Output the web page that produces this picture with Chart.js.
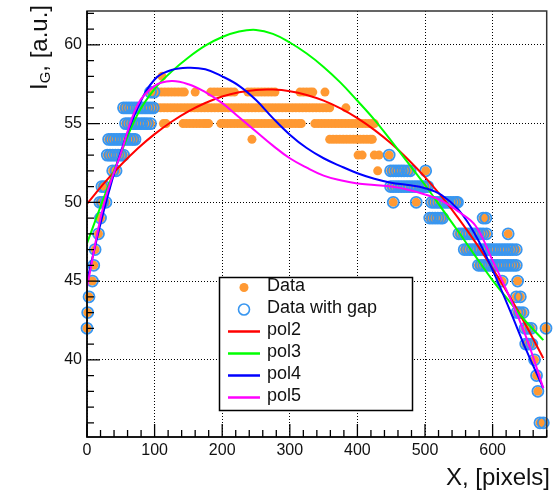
<!DOCTYPE html>
<html><head><meta charset="utf-8">
<script src="https://cdn.jsdelivr.net/npm/chart.js@4.4.1/dist/chart.umd.min.js"></script>
<style>html,body{margin:0;padding:0;background:#fff;overflow:hidden}canvas{display:block}</style>
</head><body>
<canvas id="c" width="554" height="493"></canvas>
<script>
// ---- axis setup ----
const xTicks = [0, 100, 200, 300, 400, 500, 600];
const yTicks = [40, 45, 50, 55, 60];
const xRange = [0, 680];
const yRange = [35.1, 62.15];

// ---- "Data" points: x positions for each quantised intensity level ----
const lv36 = [670, 675];
const lv38 = [667];
const lv39 = [665];
const lv40 = [662];
const lv41 = [649, 653, 658];
const lv42 = [0, 648, 652, 657, 679];
const lv43 = [1, 636, 640, 645];
const lv44 = [3, 635, 641];
const lv45 = [8, 614, 637];
const lv46 = [10, 579, 583, 587, 591, 595, 599, 603, 607, 611, 615, 619, 623, 627, 631, 635];
const lv47 = [12, 558, 562, 566, 570, 574, 578, 582, 586, 590, 594, 598, 602, 606, 610, 614, 618, 622, 626, 630, 635];
const lv48 = [17, 550, 554, 558, 562, 566, 570, 574, 578, 582, 586, 591, 623];
const lv49 = [20, 507, 511, 515, 519, 523, 526, 586, 590];
const lv50 = [19, 23, 28, 453, 487, 510, 514, 518, 522, 526, 530, 534, 538, 542, 546, 548];
const lv51 = [22, 26, 449, 453, 457, 461, 465, 469, 473, 477, 481, 485, 489, 493, 497, 501, 504];
const lv52 = [38, 43, 430, 449, 453, 457, 461, 465, 469, 474, 478, 501];
const lv53 = [30, 34, 38, 42, 46, 50, 54, 401, 407, 425, 432, 447];
const lv54 = [32, 36, 40, 44, 48, 52, 56, 60, 64, 68, 71, 244,
  359, 364, 369, 374, 379, 384, 389, 394, 399, 404, 409, 414, 419, 422];
const lv55 = [57, 61, 65, 69, 73, 77, 81, 85, 89, 94, 113, 117,
  142, 147, 152, 157, 162, 167, 172, 176, 180,
  198, 203, 208, 213, 218, 223, 228, 233, 238, 243, 248, 253, 258, 263, 268, 273, 278, 283, 288, 293, 298, 303, 308, 313, 317,
  337, 342, 347, 352, 357, 362, 367, 372, 377, 382, 387, 392, 397, 402, 407, 412, 417, 422, 425];
const lv56 = [54, 58, 62, 66, 70, 74, 78, 82, 86, 90, 94, 98,
  104, 109, 114, 119, 124, 129, 134, 139, 144, 149, 154, 159, 164, 169,
  174, 179, 184, 189, 194, 199, 204, 209, 214, 219, 224, 229, 234, 239, 244, 249, 254, 259, 264, 269, 274, 279, 284, 289,
  294, 299, 304, 309, 314, 319, 324, 329, 334, 339, 344, 349, 354, 359, 383];
const lv57 = [94, 99, 105, 110, 115, 120, 125, 130, 135, 140, 144, 160, 183, 188, 193, 198, 203, 208, 213, 218,
  238, 243, 248, 253, 258, 263, 268, 273, 278, 315, 320, 325, 330, 334, 352];
const lv58 = [111];

const levelValues = [36, 38, 39, 40, 41, 42, 43, 44, 45, 46, 47, 48, 49, 50, 51, 52, 53, 54, 55, 56, 57, 58];
const levelXs = [lv36, lv38, lv39, lv40, lv41, lv42, lv43, lv44, lv45, lv46, lv47, lv48, lv49, lv50, lv51, lv52, lv53, lv54, lv55, lv56, lv57, lv58];

// the "gap" excluded from the second data set
const gapFrom = 100, gapTo = 440;

// ---- fitted polynomial curves ----
const curveX = [0, 25, 50, 75, 100, 125, 150, 175, 200, 225, 250, 275, 300, 325, 350, 375, 400, 425, 450, 475, 500, 525, 550, 575, 600, 625, 650, 675];
const pol2 = [49.90, 51.20, 52.37, 53.42, 54.33, 55.12, 55.78, 56.31, 56.72, 56.99, 57.14, 57.16, 57.06, 56.82, 56.46, 55.97, 55.35, 54.60, 53.73, 52.72, 51.60, 50.34, 48.95, 47.44, 45.80, 44.03, 42.13, 40.10];
const pol3 = [47.4, 50.3, 53.1, 55.6, 57.2, 58.3, 59.2, 59.95, 60.5, 60.85, 60.95, 60.7, 60.15, 59.45, 58.6, 57.6, 56.45, 55.25, 53.9, 52.5, 51.1, 49.6, 48.1, 46.55, 45.05, 43.7, 42.4, 41.25];
const pol4 = [45.0, 49.5, 53.2, 56.0, 57.8, 58.4, 58.55, 58.45, 58.0, 57.4, 56.5, 55.35, 54.3, 53.45, 52.8, 52.3, 51.85, 51.5, 51.25, 51.1, 50.9, 50.45, 49.5, 47.9, 45.7, 43.2, 40.6, 38.2];
const pol5 = [44.6, 49.9, 53.1, 56.2, 57.4, 57.7, 57.5, 57.0, 56.3, 55.4, 54.5, 53.6, 52.8, 52.2, 51.7, 51.4, 51.2, 51.1, 51.0, 50.8, 50.5, 50.1, 49.4, 48.5, 46.3, 44.0, 41.4, 38.2];

// ---- build datasets ----
const dataPts = [];
levelValues.forEach((lv, i) => levelXs[i].forEach(x => dataPts.push({x: x, y: lv})));
const gapPts = dataPts.filter(p => p.x <= gapFrom || p.x >= gapTo);
const curve = arr => curveX.map((x, i) => ({x: x, y: arr[i]}));

const FONT = "'Liberation Sans', Arial, Helvetica, sans-serif";
const ORANGE = 'rgb(255,153,51)';
const LBLUE = 'rgb(56,150,240)';

function lineDs(label, arr, color, order) {
  return {label, data: curve(arr), showLine: true, borderColor: color, backgroundColor: color,
    borderWidth: 2, pointRadius: 0, tension: 0.4, order, kind: 'line'};
}

const datasets = [
  {label: 'Data', data: dataPts, pointRadius: 4.5, pointBackgroundColor: ORANGE, backgroundColor: ORANGE,
   pointBorderWidth: 0, borderWidth: 0, showLine: false, clip: false, order: 6, kind: 'fill'},
  {label: 'Data with gap', data: gapPts, pointRadius: 5.5, pointBackgroundColor: 'rgba(0,0,0,0)', pointBorderColor: LBLUE,
   borderColor: LBLUE, pointBorderWidth: 1.8, showLine: false, clip: false, order: 5, kind: 'open'},
  lineDs('pol2', pol2, '#ff0000', 4),
  lineDs('pol3', pol3, '#00ff00', 3),
  lineDs('pol4', pol4, '#0000ff', 2),
  lineDs('pol5', pol5, '#ff00ff', 1)
];

const decor = {
  id: 'decor',
  afterDraw(chart) {
    const {ctx, chartArea: a, scales: {x, y}} = chart;
    ctx.save();
    // frame
    ctx.strokeStyle = '#333'; ctx.lineWidth = 1.5;
    ctx.strokeRect(a.left, a.top, a.right - a.left, a.bottom - a.top);
    ctx.strokeStyle = '#000';
    ctx.beginPath(); ctx.moveTo(a.left, a.top); ctx.lineTo(a.left, a.bottom); ctx.lineTo(a.right, a.bottom); ctx.stroke();
    // inward ticks
    ctx.lineWidth = 1.3;
    ctx.beginPath();
    for (let v = xRange[0]; v <= xRange[1]; v += 20) {
      const px = x.getPixelForValue(v);
      const len = xTicks.includes(v) ? 13 : 7;
      ctx.moveTo(px, a.bottom); ctx.lineTo(px, a.bottom - len);
    }
    for (let v = Math.ceil(yRange[0]); v <= yRange[1]; v += 1) {
      const py = y.getPixelForValue(v);
      const len = yTicks.includes(v) ? 13 : 7;
      ctx.moveTo(a.left, py); ctx.lineTo(a.left + len, py);
    }
    ctx.stroke();

    // axis titles
    ctx.fillStyle = '#111';
    ctx.textBaseline = 'alphabetic';
    ctx.font = '24px ' + FONT;
    ctx.textAlign = 'right';
    ctx.fillText('X, [pixels]', 550, 485);
    ctx.textAlign = 'left';
    ctx.save();
    ctx.translate(47, 90);
    ctx.rotate(-Math.PI / 2);
    ctx.font = '24px ' + FONT;
    ctx.fillText('I', 0, 0);
    let w = ctx.measureText('I').width;
    ctx.font = '15px ' + FONT;
    ctx.fillText('G', w, 3);
    w += ctx.measureText('G').width;
    ctx.font = '24px ' + FONT;
    ctx.fillText(', [a.u.]', w, 0);
    ctx.restore();

    // legend box
    const lx = 219.5, ly = 277.5, lw = 193, lh = 133;
    ctx.fillStyle = '#fff';
    ctx.fillRect(lx, ly, lw, lh);
    ctx.strokeStyle = '#000'; ctx.lineWidth = 1.5;
    ctx.strokeRect(lx, ly, lw, lh);
    ctx.font = '18px ' + FONT;
    ctx.textBaseline = 'middle';
    chart.data.datasets.forEach((ds, i) => {
      const cy = 287.5 + i * 22;
      const mx = 244;
      if (ds.kind === 'fill') {
        ctx.fillStyle = ORANGE;
        ctx.beginPath(); ctx.arc(mx, cy, 4.5, 0, Math.PI * 2); ctx.fill();
      } else if (ds.kind === 'open') {
        ctx.strokeStyle = LBLUE; ctx.lineWidth = 1.6;
        ctx.beginPath(); ctx.arc(mx, cy, 5.5, 0, Math.PI * 2); ctx.stroke();
      } else {
        ctx.strokeStyle = ds.borderColor; ctx.lineWidth = 2.5;
        ctx.beginPath(); ctx.moveTo(228, cy); ctx.lineTo(260, cy); ctx.stroke();
      }
      ctx.fillStyle = '#111';
      ctx.fillText(ds.label, 267, cy - 1.5);
    });
    ctx.restore();
  }
};

new Chart(document.getElementById('c'), {
  type: 'scatter',
  data: {datasets},
  options: {
    responsive: false,
    animation: false,
    events: [],
    layout: {padding: {top: 11, right: 2, left: 0, bottom: 0}},
    plugins: {legend: {display: false}, tooltip: {enabled: false}},
    scales: {
      x: {
        type: 'linear', min: xRange[0], max: xRange[1],
        afterBuildTicks: s => { s.ticks = xTicks.map(v => ({value: v})); },
        afterFit: s => { s.height = 56; s.paddingLeft = 0; s.paddingRight = 0; },
        grid: {color: '#000', lineWidth: 1, drawTicks: false},
        border: {display: false, dash: [1, 2]},
        ticks: {font: {family: FONT, size: 16}, color: '#111', padding: 4, maxRotation: 0, autoSkip: false}
      },
      y: {
        type: 'linear', min: yRange[0], max: yRange[1],
        afterBuildTicks: s => { s.ticks = yTicks.map(v => ({value: v})); },
        afterFit: s => { s.width = 87; s.paddingTop = 0; s.paddingBottom = 0; },
        grid: {color: '#000', lineWidth: 1, drawTicks: false},
        border: {display: false, dash: [1, 2]},
        ticks: {font: {family: FONT, size: 16}, color: '#111', padding: 5, autoSkip: false}
      }
    }
  },
  plugins: [decor]
});
</script>
</body></html>
